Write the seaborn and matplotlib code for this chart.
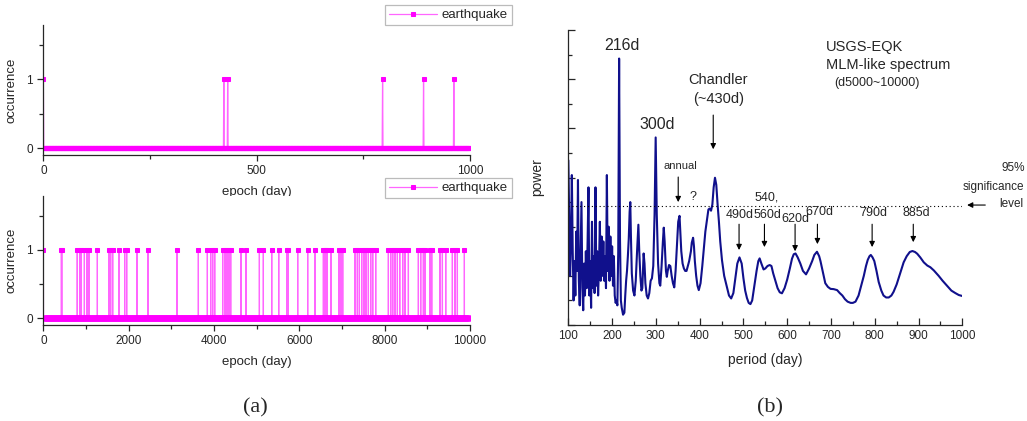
import matplotlib

matplotlib.use("Agg")
import matplotlib.pyplot as plt
import numpy as np
import pandas as pd
import seaborn as sns
from matplotlib.ticker import MultipleLocator, NullFormatter


# (a) earthquake occurrence, day of each event
TOP_EVENTS = [0, 423, 432, 795, 891, 962]
BOTTOM_EVENTS = [
    0, 423, 432, 795, 852, 891, 962, 1023, 1070, 1266, 1539, 1578, 1625, 1773,
    1906, 1953, 2195, 2453, 3133, 3633, 3844, 3922, 3969, 4016, 4203, 4258,
    4305, 4352, 4391, 4633, 4750, 5063, 5156, 5352, 5516, 5703, 5734, 5961,
    6195, 6367, 6563, 6602, 6617, 6656, 6742, 6930, 6977, 7016, 7305, 7359,
    7406, 7461, 7516, 7563, 7617, 7672, 7719, 7789, 8086, 8141, 8188, 8242,
    8297, 8352, 8422, 8477, 8555, 8789, 8844, 8906, 8945, 9063, 9102, 9297,
    9352, 9430, 9586, 9648, 9703, 9867,
]
TOP_SPAN = 1000
BOTTOM_SPAN = 10000

# (b) MLM-like spectrum (arbitrary power units)
PERIOD = [
    100, 102, 104, 106, 108, 110, 112, 114, 116, 118, 120, 122, 124, 126, 128,
    130, 132, 134, 136, 138, 140, 142, 144, 146, 148, 150, 152, 154, 156, 158,
    160, 162, 164, 166, 168, 170, 172, 174, 176, 178, 180, 182, 184, 186, 188,
    190, 192, 194, 196, 198, 200, 202, 204, 206, 208, 210, 212, 214, 216, 218,
    220, 222, 225, 228, 230, 232, 234, 236, 238, 240, 241.5, 243, 245, 248,
    251, 254, 257, 260, 262, 264.5, 267, 269, 272, 274, 276, 279, 282, 285,
    288, 291, 294, 297, 299.5, 302, 305, 308, 310, 313, 316, 318, 320, 323,
    325, 327, 330, 333, 336, 339, 342, 345, 348, 351, 354, 356, 358, 361, 364,
    367, 370, 373, 376, 380, 382, 385, 387, 389, 392, 395, 398, 402, 406, 409,
    413, 417, 420, 423, 426, 429, 432, 435, 438, 441, 444, 447, 451, 456, 462,
    467, 472, 477, 481, 486, 491, 496, 500, 504, 508, 512, 516, 520, 525, 530,
    534, 537, 541, 546, 550, 555, 560, 564, 568, 573, 578, 583, 588, 594, 600,
    606, 611, 615, 619, 624, 630, 636, 643, 650, 657, 662, 668, 673, 676, 681,
    687, 693, 699, 706, 714, 720, 726, 732, 738, 745, 750, 756, 763, 769, 775,
    780, 784, 788, 791, 795, 799, 804, 809, 815, 820, 826, 832, 838, 843, 850,
    858, 866, 873, 880, 886, 892, 897, 904, 912, 920, 927, 935, 946, 955, 965,
    975, 984, 992, 1000,
]
POWER = [
    6.7, 4.2, 2.0, 3.4, 6.1, 3.0, 1.0, 2.6, 1.2, 3.8, 2.2, 5.9, 1.8, 0.8, 3.0,
    5.0, 1.5, 0.6, 2.5, 1.2, 3.0, 1.5, 3.4, 5.6, 1.2, 2.6, 0.7, 4.2, 1.5, 2.8,
    1.3, 5.6, 1.6, 3.0, 1.2, 2.4, 4.2, 1.8, 3.6, 2.0, 3.4, 1.8, 2.8, 1.5, 6.1,
    2.2, 4.0, 1.8, 3.6, 2.0, 3.2, 1.6, 2.8, 1.2, 0.9, 1.0, 0.8, 3.0, 10.84, 3.5,
    1.0, 0.7, 0.42, 0.5, 1.2, 1.8, 2.2, 2.8, 3.5, 4.6, 5.0, 3.6, 2.1, 1.4,
    1.2, 1.8, 3.0, 4.08, 3.0, 2.0, 1.4, 1.5, 2.91, 2.5, 1.7, 1.2, 1.08, 1.3,
    1.8, 1.9, 2.4, 4.5, 7.63, 4.5, 2.5, 1.7, 1.6, 2.4, 3.4, 3.96, 3.4, 2.2,
    1.96, 2.2, 2.44, 2.4, 2.0, 1.7, 1.53, 2.2, 3.2, 4.2, 4.44, 3.7, 3.0, 2.5, 2.3,
    2.2, 2.2, 2.4, 2.6, 3.0, 3.35, 3.55, 3.2, 2.6, 2.0, 1.6, 1.42, 1.7, 2.4, 3.0,
    3.8, 4.3, 4.7, 4.74, 4.65, 4.9, 5.6, 5.99, 5.7, 4.9, 4.2, 3.4, 2.64, 2.0, 1.56,
    1.2, 1.08, 1.3, 1.83, 2.5, 2.75, 2.5, 1.9, 1.4, 1.1, 0.9, 0.85, 1.0, 1.6, 2.2,
    2.6, 2.71, 2.5, 2.26, 2.3, 2.4, 2.44, 2.4, 2.1, 1.8, 1.5, 1.33, 1.29, 1.5, 1.85,
    2.3, 2.7, 2.88, 2.91, 2.75, 2.5, 2.2, 2.06, 2.3, 2.6, 2.85, 2.98, 2.8, 2.6, 2.2,
    1.7, 1.55, 1.47, 1.46, 1.42, 1.3, 1.2, 1.05, 0.95, 0.9, 0.9, 0.95, 1.2, 1.6, 2.0,
    2.4, 2.65, 2.8, 2.85, 2.75, 2.6, 2.2, 1.75, 1.4, 1.2, 1.12, 1.12, 1.2, 1.35, 1.65,
    2.1, 2.55, 2.8, 2.97, 3.01, 2.97, 2.9, 2.75, 2.55, 2.42, 2.35, 2.22, 2.0, 1.8, 1.6,
    1.4, 1.3, 1.22, 1.18,
]
SIGNIFICANCE = 4.85

PEAK_LABELS = ["490d", "560d", "620d", "670d", "790d", "885d"]
PEAK_LABEL_X = [490.6, 554.5, 619, 674, 796.7, 895]
PEAK_LABEL_Y = [4.47, 4.47, 4.33, 4.6, 4.55, 4.55]
PEAK_ARROW_X = [490, 548, 618, 669, 794, 888]
PEAK_ARROW_TIP = [3.05, 3.17, 3.0, 3.29, 3.17, 3.37]

PINK_LINE = "#ff66ff"
MAGENTA = "#ff00ff"
NAVY = "#10108c"


def occurrence_frame(events: list[int], span: int) -> pd.DataFrame:
    days = np.arange(0, span + 1)
    occ = np.isin(days, events).astype(int)
    return pd.DataFrame({"day": days, "occurrence": occ})


def draw_occurrence(ax, events, span, major, minor, legend_y) -> None:
    df = occurrence_frame(events, span)
    sns.lineplot(
        data=df, x="day", y="occurrence", ax=ax, estimator=None, sort=False,
        color=PINK_LINE, lw=0.9, marker="s", markersize=2.6,
        markerfacecolor=MAGENTA, markeredgecolor=MAGENTA, label="earthquake",
    )
    ax.set_xlim(0, span)
    ax.set_ylim(-0.1, 1.79)
    ax.xaxis.set_major_locator(MultipleLocator(major))
    ax.xaxis.set_minor_locator(MultipleLocator(minor))
    ax.set_yticks([0, 1])
    ax.yaxis.set_minor_locator(MultipleLocator(0.5))
    ax.tick_params(which="both", direction="out", labelsize=8.5, width=0.9)
    ax.tick_params(which="major", length=4)
    ax.tick_params(which="minor", length=3)
    ax.set_xlabel("epoch (day)", fontsize=9.5, labelpad=6)
    ax.set_ylabel("occurrence", fontsize=9.5, labelpad=6)
    sns.despine(ax=ax)
    leg = ax.legend(
        loc="upper right", bbox_to_anchor=(512 / 1027, legend_y),
        bbox_transform=ax.figure.transFigure, fontsize=9.5, frameon=True,
        fancybox=False, edgecolor="#aaaaaa", handlelength=3.6, borderpad=0.3,
        handletextpad=0.4, borderaxespad=0,
    )
    leg.get_frame().set_linewidth(0.9)


def main() -> None:
    sns.set_style("ticks")
    plt.rcParams["font.family"] = ["Liberation Sans", "DejaVu Sans"]
    plt.rcParams["axes.linewidth"] = 0.9

    fig = plt.figure(figsize=(10.27, 4.21), dpi=100)
    ax_top = fig.add_axes([0.0422, 0.6318, 0.4155, 0.3088])
    ax_bot = fig.add_axes([0.0422, 0.228, 0.4155, 0.3064])
    ax_spec = fig.add_axes([0.5534, 0.228, 0.3836, 0.7007])

    draw_occurrence(ax_top, TOP_EVENTS, TOP_SPAN, 500, 250, 1 - 5 / 421)
    draw_occurrence(ax_bot, BOTTOM_EVENTS, BOTTOM_SPAN, 2000, 1000, 1 - 178 / 421)

    spec = pd.DataFrame({"period": PERIOD, "power": POWER})
    sns.lineplot(data=spec, x="period", y="power", ax=ax_spec, estimator=None,
                 sort=False, color=NAVY, lw=1.5)
    ax_spec.axhline(SIGNIFICANCE, color="black", lw=0.8, ls=(0, (1, 2.5)))
    ax_spec.set_xlim(100, 1000)
    ax_spec.set_ylim(0, 12)
    ax_spec.xaxis.set_major_locator(MultipleLocator(100))
    ax_spec.xaxis.set_minor_locator(MultipleLocator(50))
    ax_spec.yaxis.set_major_locator(MultipleLocator(2))
    ax_spec.yaxis.set_minor_locator(MultipleLocator(1))
    ax_spec.yaxis.set_major_formatter(NullFormatter())
    ax_spec.tick_params(which="both", direction="in", labelsize=8.5, width=0.9)
    ax_spec.tick_params(which="major", length=5)
    ax_spec.tick_params(which="minor", length=3)
    ax_spec.set_xlabel("period (day)", fontsize=10, labelpad=8)
    ax_spec.set_ylabel("power", fontsize=10, labelpad=14)
    sns.despine(ax=ax_spec)

    arrow = dict(arrowstyle="-|>", color="black", lw=0.8, mutation_scale=8,
                 shrinkA=0, shrinkB=0)
    ax_spec.text(223, 11.38, "216d", ha="center", va="center", fontsize=11.5)
    ax_spec.text(303, 8.17, "300d", ha="center", va="center", fontsize=11.5)
    ax_spec.text(442.6, 9.96, "Chandler", ha="center", va="center", fontsize=10.5)
    ax_spec.text(442.6, 9.19, "(~430d)", ha="center", va="center", fontsize=10.5)
    ax_spec.annotate("", xy=(431, 7.15), xytext=(431, 8.54), arrowprops=arrow)
    ax_spec.text(689, 11.3, "USGS-EQK", ha="left", va="center", fontsize=10.5)
    ax_spec.text(689, 10.57, "MLM-like spectrum", ha="left", va="center", fontsize=10.5)
    ax_spec.text(707.6, 9.84, "(d5000~10000)", ha="left", va="center", fontsize=9)
    ax_spec.text(356, 6.46, "annual", ha="center", va="center", fontsize=8)
    ax_spec.annotate("", xy=(351, 5.0), xytext=(351, 6.02), arrowprops=arrow)
    ax_spec.text(385.5, 5.2, "?", ha="center", va="center", fontsize=9)
    ax_spec.text(552, 5.2, "540,", ha="center", va="center", fontsize=9)
    for label, lx, ly, axx, tip in zip(PEAK_LABELS, PEAK_LABEL_X, PEAK_LABEL_Y,
                                       PEAK_ARROW_X, PEAK_ARROW_TIP):
        ax_spec.text(lx, ly, label, ha="center", va="center", fontsize=9)
        ax_spec.annotate("", xy=(axx, tip), xytext=(axx, 4.1), arrowprops=arrow)
    ax_spec.text(1144, 6.38, "95%", ha="right", va="center", fontsize=8.5, clip_on=False)
    ax_spec.text(1141.6, 5.6, "significance", ha="right", va="center", fontsize=8.5,
                 clip_on=False)
    ax_spec.text(1139, 4.92, "level", ha="right", va="center", fontsize=8.5, clip_on=False)
    ax_spec.annotate("", xy=(1011, 4.88), xytext=(1052.5, 4.88), arrowprops=arrow,
                     annotation_clip=False)

    fig.text(255 / 1027, 1 - 408 / 421, "(a)", ha="center", va="center",
             fontsize=16, family=["Liberation Serif", "DejaVu Serif"])
    fig.text(770 / 1027, 1 - 408 / 421, "(b)", ha="center", va="center",
             fontsize=16, family=["Liberation Serif", "DejaVu Serif"])

    fig.savefig("out.png", dpi=100, facecolor="white")
    plt.close(fig)


if __name__ == "__main__":
    main()
